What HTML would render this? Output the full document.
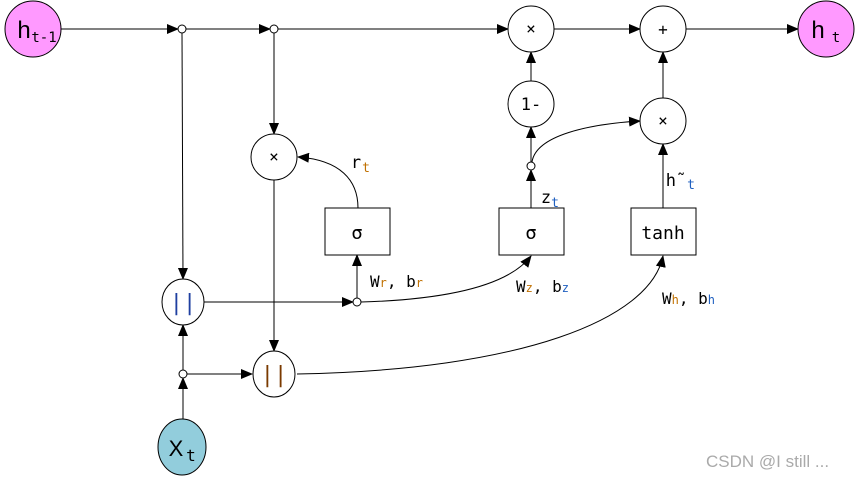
<!DOCTYPE html>
<html><head><style>body{margin:0;background:#fff}svg{display:block}text{font-family:"DejaVu Sans Mono","Liberation Mono",monospace}text.s{font-family:"Liberation Sans",sans-serif}</style></head><body>
<svg width="856" height="478" viewBox="0 0 856 478" xmlns="http://www.w3.org/2000/svg">
<defs><marker id="a" markerWidth="12" markerHeight="10" refX="11" refY="5" orient="auto" markerUnits="userSpaceOnUse"><path d="M0,0L12,5L0,10z" fill="#000"/></marker></defs>
<g stroke="#000" stroke-width="1" fill="none">
<line x1="61" y1="29" x2="178" y2="29" marker-end="url(#a)"/>
<line x1="186" y1="29" x2="270" y2="29" marker-end="url(#a)"/>
<line x1="278" y1="29" x2="508" y2="29" marker-end="url(#a)"/>
<line x1="554" y1="29" x2="640" y2="29" marker-end="url(#a)"/>
<line x1="686" y1="29" x2="798" y2="29" marker-end="url(#a)"/>
<line x1="182" y1="33" x2="183" y2="279" marker-end="url(#a)"/>
<line x1="274" y1="33" x2="274" y2="134" marker-end="url(#a)"/>
<line x1="274" y1="180" x2="274" y2="351" marker-end="url(#a)"/>
<line x1="531" y1="81" x2="531" y2="52" marker-end="url(#a)"/>
<line x1="531" y1="162" x2="531" y2="127" marker-end="url(#a)"/>
<line x1="531" y1="208" x2="531" y2="170" marker-end="url(#a)"/>
<line x1="663" y1="98" x2="663" y2="52" marker-end="url(#a)"/>
<line x1="663" y1="208" x2="663" y2="144" marker-end="url(#a)"/>
<line x1="203" y1="302" x2="353" y2="302" marker-end="url(#a)"/>
<line x1="357" y1="298" x2="357" y2="255" marker-end="url(#a)"/>
<line x1="183" y1="370" x2="183" y2="325" marker-end="url(#a)"/>
<line x1="183" y1="419" x2="183" y2="378" marker-end="url(#a)"/>
<line x1="187" y1="374" x2="252" y2="374" marker-end="url(#a)"/>
<path d="M358,208 C358,180 340,160 298,157" marker-end="url(#a)"/>
<path d="M361,302 C430,300 505,290 531,256" marker-end="url(#a)"/>
<path d="M532,162 C536,135 590,124 640,121" marker-end="url(#a)"/>
<path d="M297,374 C520,370 650,320 663,256" marker-end="url(#a)"/>
<circle cx="182" cy="29" r="4" fill="#fff"/><circle cx="274" cy="29" r="4" fill="#fff"/>
<circle cx="531" cy="166" r="4" fill="#fff"/><circle cx="357" cy="302" r="4" fill="#fff"/><circle cx="183" cy="374" r="4" fill="#fff"/>
<circle cx="33" cy="29" r="28" fill="#ff99ff"/><circle cx="826" cy="29" r="28" fill="#ff99ff"/>
<circle cx="531" cy="29" r="23" fill="#fff"/><circle cx="663" cy="29" r="23" fill="#fff"/>
<circle cx="531" cy="104" r="23" fill="#fff"/><circle cx="663" cy="121" r="23" fill="#fff"/>
<circle cx="274" cy="157" r="23" fill="#fff"/>
<ellipse cx="183" cy="302" rx="21" ry="23" fill="#fff"/><ellipse cx="274" cy="374" rx="21" ry="23" fill="#fff"/>
<ellipse cx="182" cy="447" rx="24" ry="28" fill="#92cddc"/>
<rect x="325" y="208" width="65" height="47" fill="#fff"/><rect x="499" y="208" width="65" height="47" fill="#fff"/><rect x="631" y="208" width="65" height="47" fill="#fff"/>
</g>
<g font-size="14" text-anchor="middle" fill="#000">
<text class="s" x="24" y="38" font-size="24">h</text><text x="44" y="42" font-size="14">t-1</text>
<text class="s" x="818" y="38" font-size="24">h</text><text x="836" y="42">t</text>
<text x="531" y="34" font-size="16">×</text><text x="663" y="35" font-size="16">+</text><text x="531" y="110" font-size="17">1-</text>
<text x="663" y="126" font-size="16">×</text><text x="274" y="162" font-size="16">×</text>
<text x="357" y="239" font-size="19">σ</text><text x="531" y="239" font-size="19">σ</text><text x="663" y="239" font-size="18">tanh</text>
<text x="183" y="310" font-size="22" fill="#1f3fa0">||</text><text x="274" y="382" font-size="22" fill="#7a3a00">||</text>
<text class="s" x="176" y="456" font-size="22">X</text><text x="191" y="461" font-size="16">t</text>
<text x="356" y="168" font-size="17">r</text><text x="366" y="172" font-size="13" fill="#c07000">t</text>
<text x="546" y="203" font-size="17">z</text><text x="555" y="207" font-size="13" fill="#2060c0">t</text>
<text x="676" y="186" font-size="17">h˜</text><text x="691" y="189" font-size="13" fill="#2060c0">t</text>
</g>
<g font-size="16" fill="#000">
<text x="370" y="287">W<tspan font-size="12" fill="#c07000">r</tspan>, b<tspan font-size="12" fill="#c07000">r</tspan></text>
<text x="516" y="292">W<tspan font-size="12" fill="#c07000">z</tspan>, b<tspan font-size="12" fill="#2060c0">z</tspan></text>
<text x="662" y="304">W<tspan font-size="12" fill="#c07000">h</tspan>, b<tspan font-size="12" fill="#2060c0">h</tspan></text>
</g>
<text class="s" x="706" y="467" font-size="17" fill="#aaa">CSDN @I still ...</text>
</svg>
</body></html>
